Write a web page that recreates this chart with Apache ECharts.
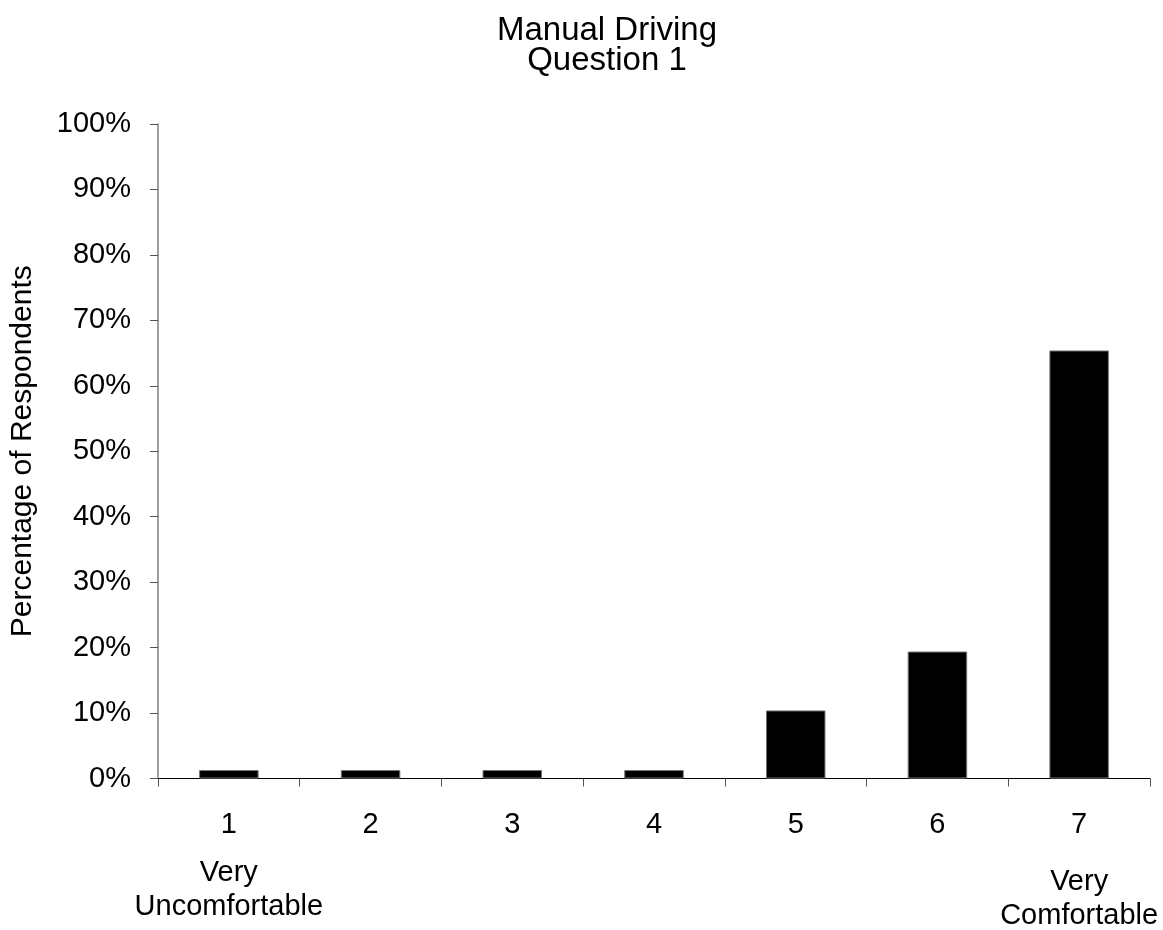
<!DOCTYPE html>
<html>
<head>
<meta charset="utf-8">
<script src="https://cdn.jsdelivr.net/npm/echarts@6/dist/echarts.min.js"></script>
<style>
  html, body { margin: 0; padding: 0; background: #fff; }
  #chart { width: 1163px; height: 930px; }
</style>
</head>
<body>
<div id="chart"></div>
<script>
// Response scale (1 = very uncomfortable, 7 = very comfortable)
const categories = ['1', '2', '3', '4', '5', '6', '7'];
// Share of respondents choosing each rating, in percent
const percentages = [1.3, 1.3, 1.3, 1.3, 10.4, 19.4, 65.4];
const titleLines = ['Manual Driving', 'Question 1'];
const lowEndLabel = ['Very', 'Uncomfortable'];
const highEndLabel = ['Very', 'Comfortable'];

const FONT = '"Liberation Sans", Arial, sans-serif';

const chart = echarts.init(document.getElementById('chart'));

chart.setOption({
  backgroundColor: '#ffffff',
  animation: false,
  title: {
    text: titleLines.join('\n'),
    left: 602,
    top: 11,
    textAlign: 'center',
    textStyle: {
      fontFamily: FONT,
      fontSize: 33,
      fontWeight: 'normal',
      color: '#000',
      lineHeight: 30
    }
  },
  grid: {
    left: 158,
    right: 13,
    top: 124,
    bottom: 150,
    containLabel: false
  },
  xAxis: {
    type: 'category',
    data: categories,
    axisLine: { lineStyle: { color: '#000', width: 1 } },
    axisTick: { show: true, length: 8, lineStyle: { color: '#555' } },
    axisLabel: {
      interval: 0,
      margin: 32,
      fontFamily: FONT,
      fontSize: 29,
      color: '#000',
      formatter: function (value) {
        if (value === categories[0]) {
          return '{n|' + value + '}\n{gap1|}\n{d|' + lowEndLabel[0] + '}\n{d|' + lowEndLabel[1] + '}';
        }
        if (value === categories[categories.length - 1]) {
          return '{n|' + value + '}\n{gap7|}\n{d|' + highEndLabel[0] + '}\n{d|' + highEndLabel[1] + '}';
        }
        return '{n|' + value + '}';
      },
      rich: {
        n: { fontFamily: FONT, fontSize: 29, lineHeight: 28, color: '#000' },
        gap1: { lineHeight: 17 },
        gap7: { lineHeight: 26 },
        d: { fontFamily: FONT, fontSize: 29, lineHeight: 34, color: '#000' }
      }
    }
  },
  yAxis: {
    type: 'value',
    min: 0,
    max: 100,
    interval: 10,
    name: 'Percentage of Respondents',
    nameLocation: 'middle',
    nameGap: 120,
    nameTextStyle: {
      fontFamily: FONT,
      fontSize: 30,
      color: '#000'
    },
    axisLine: { show: true, lineStyle: { color: '#808080', width: 1.5 } },
    axisTick: { show: true, length: 8, lineStyle: { color: '#555' } },
    splitLine: { show: false },
    axisLabel: {
      margin: 27,
      fontFamily: FONT,
      fontSize: 29,
      color: '#000',
      formatter: '{value}%'
    }
  },
  series: [{
    type: 'bar',
    data: percentages,
    barWidth: '42%',
    itemStyle: {
      color: '#000',
      borderColor: '#777',
      borderWidth: 1
    }
  }]
});
</script>
</body>
</html>
